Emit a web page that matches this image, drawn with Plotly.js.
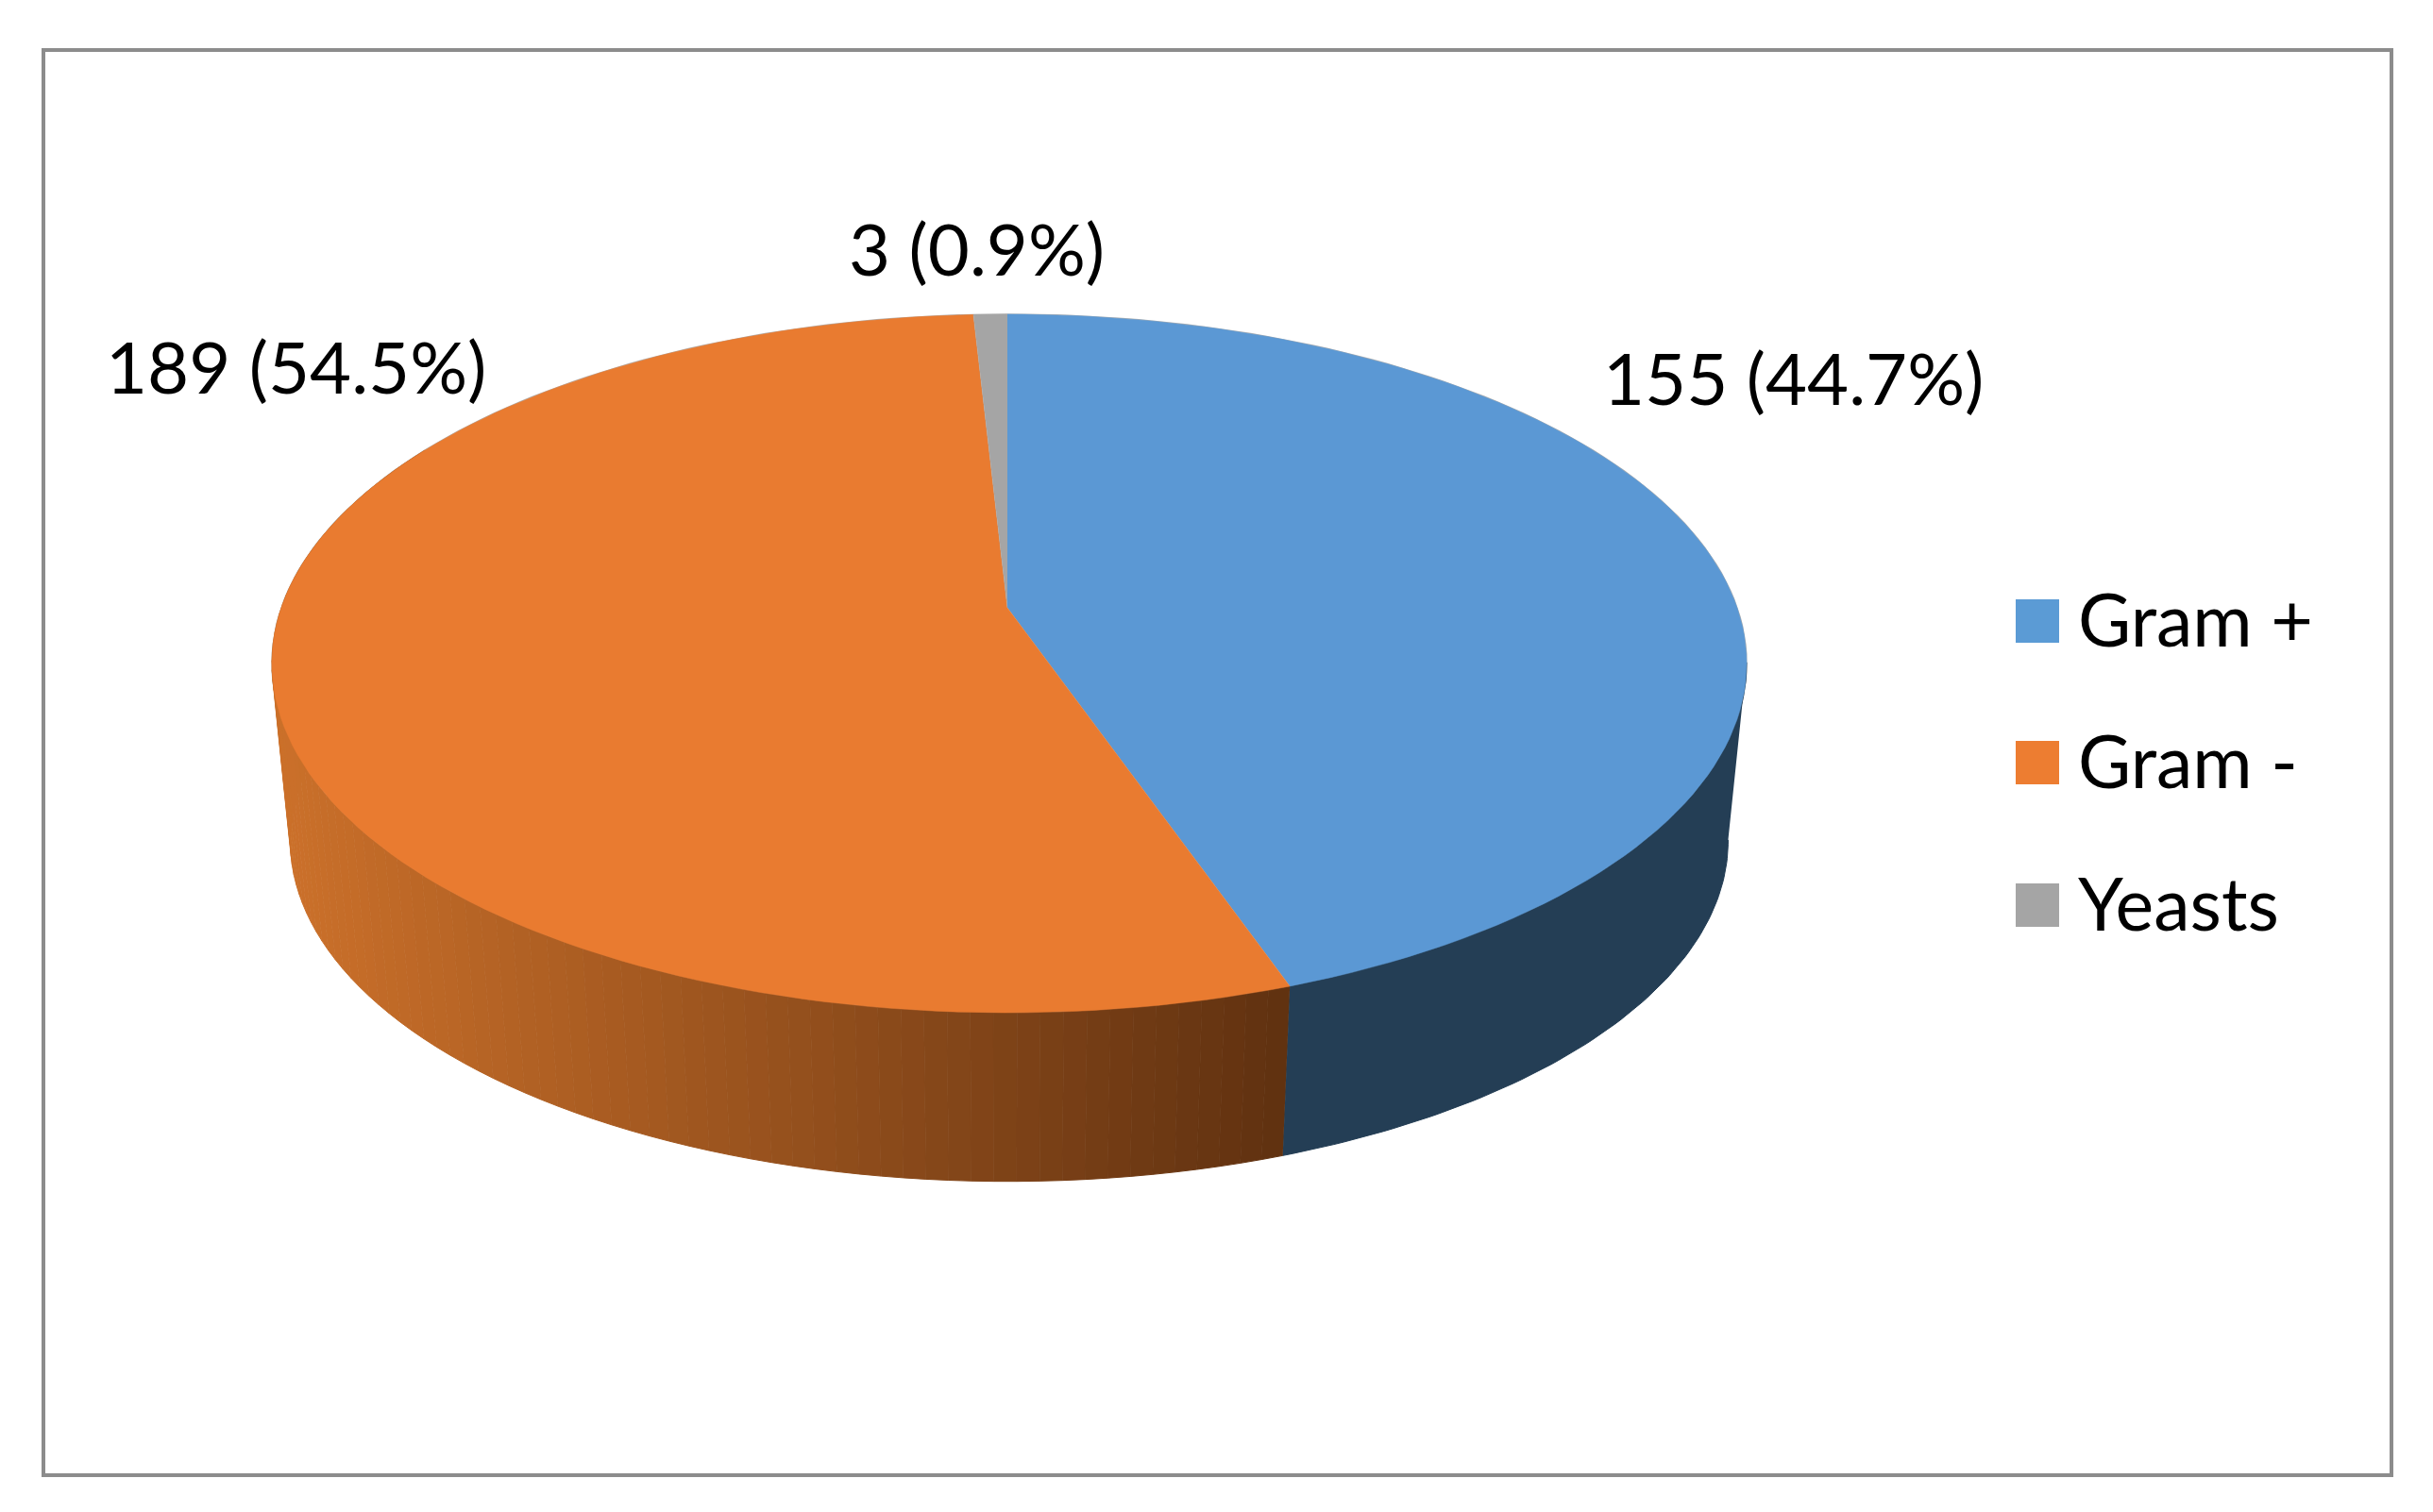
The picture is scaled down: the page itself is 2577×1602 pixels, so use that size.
<!DOCTYPE html>
<html>
<head>
<meta charset="utf-8">
<script src="https://cdn.plot.ly/plotly-3.0.1.min.js"></script>
<style>html,body{margin:0;padding:0;background:#fff}#chart{width:2577px;height:1602px}</style>
</head>
<body>
<div id="chart"></div>
<script>
// Data
const categories = ["Gram +", "Gram -", "Yeasts"];
const counts = [155, 189, 3];
const topColors = ["#5B98D4", "#E97B30", "#A5A5A5"];
const legendColors = ["#5B9BD5", "#ED7D31", "#A5A5A5"];
const blueWall = "#243E55";
const orangeWallLight = [203, 112, 42];
const orangeWallDark = [96, 49, 16];

// Look of the tilted disc (pixel-valued axes)
const FONT = "Lato, Carlito, Calibri, sans-serif";
const cx = 1067, tipY = 644, halfWRight = 773, halfWLeft = 769, halfH = 360.6, persp = 0.1594;
const discMidY = 703, wallMidY = 891, wallScale = 0.975;
const labelPos = [[1899, 399], [313, 387], [1034, 262]];
const legendX = 2158, legendTextX = 2199, legendY = [658, 808, 959], legendTextY = [655, 805, 956];

const total = counts.reduce((a, b) => a + b, 0);
const topPt = deg => {
  const t = deg * Math.PI / 180, u = Math.sin(t), v = -Math.cos(t), d = 1 - persp * v;
  return [cx + (u >= 0 ? halfWRight : halfWLeft) * u / d, tipY + halfH * v / d];
};
const lowPt = deg => {
  const p = topPt(deg);
  return [cx + wallScale * (p[0] - cx), wallMidY + wallScale * (p[1] - discMidY)];
};
const steps = (a, b, n) => Array.from({length: n + 1}, (_, i) => a + (b - a) * i / n);

const traces = [];
const poly = (pts, color, lw) => traces.push({
  type: "scatter", mode: "lines", x: pts.map(p => p[0]), y: pts.map(p => p[1]),
  fill: "toself", fillcolor: color, line: {color: color, width: lw === undefined ? 1 : lw},
  hoverinfo: "skip", showlegend: false
});

// slice boundaries, clockwise from 12 o'clock
let acc = 0;
const bounds = counts.map(c => { const s = acc; acc += c / total * 360; return [s, acc]; });

// faint outline round the disc
const rim = steps(0, 360, 240).map(topPt);
traces.push({type: "scatter", mode: "lines", x: rim.map(p => p[0]), y: rim.map(p => p[1]),
  line: {color: "#b0b0b0", width: 1.5}, hoverinfo: "skip", showlegend: false});

// side wall, Gram + part (starts where the rim is widest)
const wallStart = 99, wallEnd = 300;
const bw = steps(wallStart, bounds[0][1], 80);
poly(bw.map(topPt).concat(bw.slice().reverse().map(lowPt)), blueWall);

// side wall, Gram - part: shaded strip by strip
const stripN = 90;
const sw = steps(bounds[0][1], wallEnd, stripN);
const x0 = topPt(268)[0], x1 = topPt(bounds[0][1])[0];
for (let i = stripN - 1; i >= 0; i--) {
  const a = sw[i], b = sw[i + 1];
  const mid = (topPt(a)[0] + topPt(b)[0]) / 2;
  const f = Math.min(1, Math.max(0, (mid - x0) / (x1 - x0)));
  const c = orangeWallLight.map((l, j) => Math.round(l + (orangeWallDark[j] - l) * f));
  const col = `rgb(${c[0]},${c[1]},${c[2]})`;
  const arc = steps(a, b, 3);
  poly(arc.map(topPt).concat(arc.slice().reverse().map(lowPt)), col);
}

// top face
counts.forEach((c, i) => {
  const arc = steps(bounds[i][0], bounds[i][1], Math.max(8, Math.round(c / total * 240)));
  poly([[cx, tipY]].concat(arc.map(topPt)), topColors[i], 0.5);
});

// legend swatches
traces.push({
  type: "scatter", mode: "markers", x: legendY.map(() => legendX), y: legendY,
  marker: {symbol: "square", size: 46, color: legendColors, line: {width: 0}},
  hoverinfo: "skip", showlegend: false
});

const annotations = counts.map((c, i) => ({
  x: labelPos[i][0], y: labelPos[i][1], xref: "x", yref: "y", showarrow: false,
  text: `${c} (${(c / total * 100).toFixed(1)}%)`,
  font: {family: FONT, size: 76, color: "#000"}, xanchor: "center", yanchor: "middle"
})).concat(categories.map((name, i) => ({
  x: legendTextX, y: legendTextY[i], xref: "x", yref: "y", showarrow: false, text: name,
  font: {family: FONT, size: 77, color: "#000"}, xanchor: "left", yanchor: "middle"
})));

const hidden = {visible: false, showgrid: false, zeroline: false, fixedrange: true};
Plotly.newPlot("chart", traces, {
  width: 2577, height: 1602, margin: {l: 0, r: 0, t: 0, b: 0, pad: 0},
  paper_bgcolor: "#fff", plot_bgcolor: "#fff", showlegend: false,
  xaxis: Object.assign({range: [0, 2577]}, hidden),
  yaxis: Object.assign({range: [1602, 0]}, hidden),
  annotations: annotations,
  shapes: [{type: "rect", xref: "x", yref: "y", x0: 46, x1: 2533, y0: 53, y1: 1563,
    line: {color: "#8c8c8c", width: 4}, fillcolor: "rgba(0,0,0,0)", layer: "below"}]
}, {staticPlot: true, displayModeBar: false});
</script>
</body>
</html>
